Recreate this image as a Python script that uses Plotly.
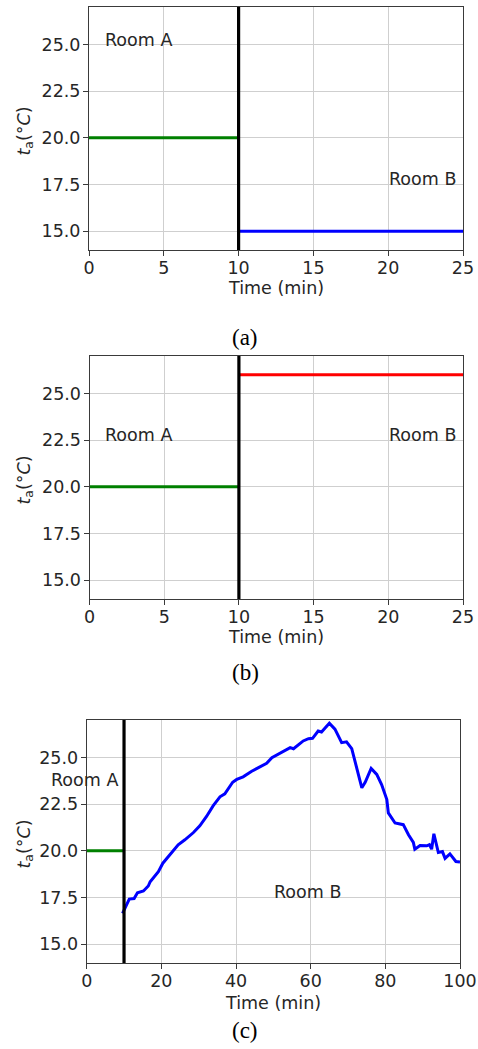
import plotly.graph_objects as go

# ---------------- data ----------------
# panel (a)
a_roomA_t = [0, 10]
a_roomA_T = [20.0, 20.0]
a_roomB_t = [10, 25]
a_roomB_T = [15.0, 15.0]
# panel (b)
b_roomA_t = [0, 10]
b_roomA_T = [20.0, 20.0]
b_roomB_t = [10, 25]
b_roomB_T = [26.0, 26.0]
# panel (c)
c_roomA_t = [0, 10]
c_roomA_T = [20.0, 20.0]
c_roomB_t = [9.6, 10.3, 11.4, 12.7, 13.6, 15.2, 16.5, 17.0, 19.2, 20.4, 22.3, 24.5,
             26.3, 28.6, 30.3, 32.1, 33.9, 35.7, 37.0, 39.1, 40.2, 41.9, 44.2, 47.3,
             48.2, 49.6, 51.8, 54.5, 55.4, 58.0, 59.4, 60.5, 62.0, 62.9, 65.0, 66.5,
             68.3, 69.6, 71.0, 72.3, 73.7, 74.6, 76.2, 77.7, 79.0, 80.4, 80.8, 82.6,
             83.9, 84.8, 86.2, 87.5, 87.9, 89.3, 91.1, 91.8, 92.4, 93.0, 94.2, 95.3,
             96.0, 97.3, 98.9, 100.0]
c_roomB_T = [16.65, 16.92, 17.42, 17.45, 17.76, 17.85, 18.12, 18.35, 18.89, 19.34, 19.78, 20.32,
             20.59, 20.98, 21.34, 21.84, 22.42, 22.89, 23.05, 23.67, 23.82, 23.96, 24.26, 24.62,
             24.68, 24.98, 25.21, 25.52, 25.46, 25.88, 26.00, 26.02, 26.41, 26.36, 26.83, 26.51,
             25.79, 25.83, 25.47, 24.53, 23.37, 23.67, 24.41, 24.09, 23.55, 22.74, 22.03, 21.49,
             21.45, 21.40, 20.86, 20.45, 20.09, 20.29, 20.27, 20.33, 20.09, 20.91, 19.91, 19.96,
             19.60, 19.84, 19.43, 19.40]

switch_time = 10
y_limits = [14, 27]
y_ticks = [15.0, 17.5, 20.0, 22.5, 25.0]
x_ticks_ab = [0, 5, 10, 15, 20, 25]
x_ticks_c = [0, 20, 40, 60, 80, 100]
captions = ["(a)", "(b)", "(c)"]

# ---------------- layout geometry (pixels) ----------------
W, H = 478, 1049
panels = [
    dict(x0=89, x1=463, top=7, bottom=250, xr=[0, 25], xt=x_ticks_ab, xtitle_y=288, cap_y=337),
    dict(x0=89.5, x1=463, top=356, bottom=599, xr=[0, 25], xt=x_ticks_ab, xtitle_y=637, cap_y=672),
    dict(x0=86.7, x1=460, top=720, bottom=963, xr=[0, 100], xt=x_ticks_c, xtitle_y=1003, cap_y=1030),
]

def px(x):
    return x / W

def py(y):
    return 1 - y / H

fig = go.Figure()

series = [
    [(a_roomA_t, a_roomA_T, "#008000"), (a_roomB_t, a_roomB_T, "#0000ff")],
    [(b_roomA_t, b_roomA_T, "#008000"), (b_roomB_t, b_roomB_T, "#ff0000")],
    [(c_roomA_t, c_roomA_T, "#008000"), (c_roomB_t, c_roomB_T, "#0000ff")],
]

TXT = "#262626"
FONT = "DejaVu Sans"
annotations = []

for i, (p, sers) in enumerate(zip(panels, series)):
    k = "" if i == 0 else str(i + 1)
    xa, ya = "x" + k, "y" + k
    for (t, T, col) in sers:
        fig.add_trace(go.Scatter(x=t, y=T, mode="lines", line=dict(color=col, width=3),
                                 xaxis=xa, yaxis=ya, showlegend=False))
    fig.add_trace(go.Scatter(x=[switch_time, switch_time], y=y_limits, mode="lines",
                             line=dict(color="black", width=3.2),
                             xaxis=xa, yaxis=ya, showlegend=False))
    axcommon = dict(showline=True, linecolor="#3a3a3a", linewidth=1, mirror=True,
                    showgrid=True, gridcolor="#cfcfcf", gridwidth=1,
                    ticks="outside", ticklen=5, tickcolor="#3a3a3a", automargin=False,
                    tickfont=dict(family=FONT, size=17.5, color=TXT), zeroline=False)
    fig.update_layout(**{
        ("xaxis" + k): dict(domain=[px(p["x0"]), px(p["x1"])], range=p["xr"], tickvals=p["xt"],
                            anchor=ya, ticklabelstandoff=-3, **axcommon),
        ("yaxis" + k): dict(domain=[py(p["bottom"]), py(p["top"])], range=y_limits,
                            tickvals=y_ticks, tickformat=".1f", anchor=xa,
                            ticklabelstandoff=-1, **axcommon),
    })
    cx = (p["x0"] + p["x1"]) / 2
    cy = (p["top"] + p["bottom"]) / 2
    annotations.append(dict(text="<i>t</i><sub>a</sub>(°<i>C</i>)", x=px(25), y=py(cy + 3),
                            xref="paper", yref="paper", xanchor="center", yanchor="middle",
                            textangle=-90, showarrow=False,
                            font=dict(family=FONT, size=17.5, color=TXT)))
    annotations.append(dict(text="Time (min)", x=px(cx), y=py(p["xtitle_y"]),
                            xref="paper", yref="paper", xanchor="center", yanchor="middle",
                            showarrow=False,
                            font=dict(family=FONT, size=17.5, color=TXT)))
    annotations.append(dict(text=captions[i], x=px(245), y=py(p["cap_y"]),
                            xref="paper", yref="paper", xanchor="center", yanchor="middle",
                            showarrow=False,
                            font=dict(family="Liberation Serif", size=23, color="black")))

# room labels (data coords; vertical centre of text)
room_labels = [
    ("x", "y", 1, 25.25, "Room A", 0),
    ("x", "y", 20, 17.8, "Room B", 0),
    ("x2", "y2", 1, 22.8, "Room A", 0),
    ("x2", "y2", 20, 22.8, "Room B", 0),
    ("x3", "y3", 0, 23.8, "Room A", -37),
    ("x3", "y3", 50, 17.8, "Room B", 0),
]
for xr_, yr_, x, y, txt, sh in room_labels:
    annotations.append(dict(text=txt, x=x, y=y, xref=xr_, yref=yr_, xanchor="left",
                            yanchor="middle", xshift=sh - 1, showarrow=False,
                            font=dict(family=FONT, size=17.5, color=TXT)))

fig.update_layout(width=W, height=H, margin=dict(l=0, r=0, t=0, b=0, autoexpand=False),
                  plot_bgcolor="white", paper_bgcolor="white",
                  annotations=annotations)

fig.write_html("out.html", config={"responsive": False, "displayModeBar": False},
               post_script="document.body.style.margin='0';"
                           "document.body.style.overflow='hidden';")
